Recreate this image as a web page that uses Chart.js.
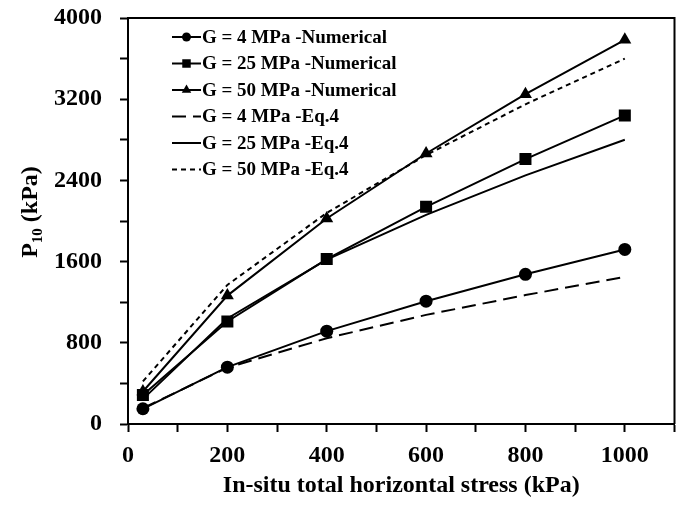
<!DOCTYPE html>
<html>
<head>
<meta charset="utf-8">
<script src="https://cdn.jsdelivr.net/npm/chart.js@4"></script>
<style>
  html, body { margin: 0; padding: 0; background: #fff; }
  #wrap { width: 683px; height: 506px; }
</style>
</head>
<body>
<div id="wrap"><canvas id="myChart" width="683" height="506"></canvas></div>
<script>
// in-situ total horizontal stress (kPa)
const stress = [30, 200, 400, 600, 800, 1000];

// P10 (kPa), numerical results
const g4Num = [150, 560, 915, 1210, 1475, 1720];
const g25Num = [285, 1010, 1625, 2140, 2610, 3040];
const g50Num = [320, 1265, 2025, 2665, 3250, 3785];

// P10 (kPa), Eq.4
const g4Eq = [155, 555, 845, 1075, 1270, 1450];
const g25Eq = [245, 1040, 1620, 2060, 2450, 2800];
const g50Eq = [420, 1370, 2080, 2650, 3150, 3600];

const seriesLabels = [
    'G = 4 MPa -Numerical', 'G = 25 MPa -Numerical', 'G = 50 MPa -Numerical',
    'G = 4 MPa -Eq.4', 'G = 25 MPa -Eq.4', 'G = 50 MPa -Eq.4'
];

const FONT = '"Liberation Serif", "Times New Roman", serif';
const markerSize = { circle: 6.5, rect: 8.5, triangle: 7.5 };
const legendMarkerSize = { circle: 4.5, rect: 6, triangle: 5.5 };

function pts(ys) {
    return stress.map((x, i) => ({ x: x, y: ys[i] }));
}

function series(label, ys, style, dash) {
    return {
        label: label,
        data: pts(ys),
        borderColor: '#000',
        backgroundColor: '#000',
        borderWidth: 2,
        borderDash: dash || [],
        pointStyle: style || false,
        pointRadius: style ? markerSize[style] : 0,
        pointBorderWidth: 0,
        tension: 0
    };
}

// legend drawn by hand so the line sample carries its marker
const legendPlugin = {
    id: 'customLegend',
    afterDraw(chart) {
        const ctx = chart.ctx;
        ctx.save();
        chart.data.datasets.forEach((ds, i) => {
            const y = 37 + i * 26.5;
            ctx.strokeStyle = '#000';
            ctx.lineWidth = 2;
            ctx.setLineDash(ds.borderDash);
            ctx.beginPath();
            ctx.moveTo(172, y);
            ctx.lineTo(201, y);
            ctx.stroke();
            ctx.setLineDash([]);
            if (ds.pointStyle) {
                ctx.fillStyle = '#000';
                Chart.helpers.drawPoint(ctx, {
                    pointStyle: ds.pointStyle,
                    rotation: 0,
                    radius: legendMarkerSize[ds.pointStyle],
                    borderWidth: 0
                }, 186.5, y);
            }
            ctx.fillStyle = '#000';
            ctx.font = 'bold 19px ' + FONT;
            ctx.textAlign = 'left';
            ctx.textBaseline = 'middle';
            ctx.fillText(ds.label, 202, y + 1);
        });
        ctx.restore();
    }
};

// frame on top and right, plus the y title with subscript
const framePlugin = {
    id: 'frame',
    afterDraw(chart) {
        const a = chart.chartArea;
        const ctx = chart.ctx;
        ctx.save();
        ctx.strokeStyle = '#000';
        ctx.lineWidth = 2;
        ctx.beginPath();
        ctx.moveTo(a.left, a.top);
        ctx.lineTo(a.right, a.top);
        ctx.lineTo(a.right, a.bottom);
        ctx.stroke();

        ctx.translate(29, 212);
        ctx.rotate(-Math.PI / 2);
        ctx.fillStyle = '#000';
        ctx.textBaseline = 'alphabetic';
        ctx.textAlign = 'left';
        const big = 'bold 24px ' + FONT;
        const small = 'bold 15px ' + FONT;
        ctx.font = big;
        const wP = ctx.measureText('P').width;
        const wRest = ctx.measureText(' (kPa)').width;
        ctx.font = small;
        const wSub = ctx.measureText('10').width;
        let x = -(wP + wSub + wRest) / 2;
        ctx.font = big;
        ctx.fillText('P', x, 8);
        x += wP;
        ctx.font = small;
        ctx.fillText('10', x, 13);
        x += wSub;
        ctx.font = big;
        ctx.fillText(' (kPa)', x, 8);
        ctx.restore();
    }
};

const ctx = document.getElementById('myChart').getContext('2d');
const myChart = new Chart(ctx, {
    type: 'line',
    data: {
        datasets: [
            series(seriesLabels[0], g4Num, 'circle'),
            series(seriesLabels[1], g25Num, 'rect'),
            series(seriesLabels[2], g50Num, 'triangle'),
            series(seriesLabels[3], g4Eq, false, [14, 7]),
            series(seriesLabels[4], g25Eq, false),
            series(seriesLabels[5], g50Eq, false, [5, 4])
        ]
    },
    options: {
        responsive: false,
        animation: false,
        layout: { padding: { top: 18, right: 7, left: 0, bottom: 6 } },
        plugins: {
            legend: { display: false },
            tooltip: { enabled: false }
        },
        scales: {
            x: {
                type: 'linear',
                min: 0,
                max: 1100,
                afterFit(scale) {
                    scale.height = 76;
                    scale.paddingLeft = 0;
                    scale.paddingRight = 0;
                },
                border: { display: true, color: '#000', width: 2 },
                grid: {
                    display: true,
                    drawOnChartArea: false,
                    drawTicks: true,
                    tickLength: 8,
                    tickWidth: 2,
                    tickColor: '#000'
                },
                ticks: {
                    stepSize: 100,
                    autoSkip: false,
                    maxRotation: 0,
                    padding: 9,
                    color: '#000',
                    font: { family: FONT, size: 24, weight: 'bold' },
                    callback: (v) => (v % 200 === 0 ? v : '')
                },
                title: {
                    display: true,
                    text: 'In-situ total horizontal stress (kPa)',
                    color: '#000',
                    padding: { top: 0, bottom: 0 },
                    font: { family: FONT, size: 24, weight: 'bold' }
                }
            },
            y: {
                min: 0,
                max: 4000,
                afterFit(scale) {
                    scale.width = 128;
                    scale.paddingTop = 0;
                    scale.paddingBottom = 0;
                },
                border: { display: true, color: '#000', width: 2 },
                grid: {
                    display: true,
                    drawOnChartArea: false,
                    drawTicks: true,
                    tickLength: 8,
                    tickWidth: 2,
                    tickColor: '#000'
                },
                ticks: {
                    stepSize: 400,
                    autoSkip: false,
                    padding: 18,
                    color: '#000',
                    font: { family: FONT, size: 24, weight: 'bold' },
                    callback: (v) => (v % 800 === 0 ? v : '')
                }
            }
        }
    },
    plugins: [legendPlugin, framePlugin]
});
</script>
</body>
</html>
